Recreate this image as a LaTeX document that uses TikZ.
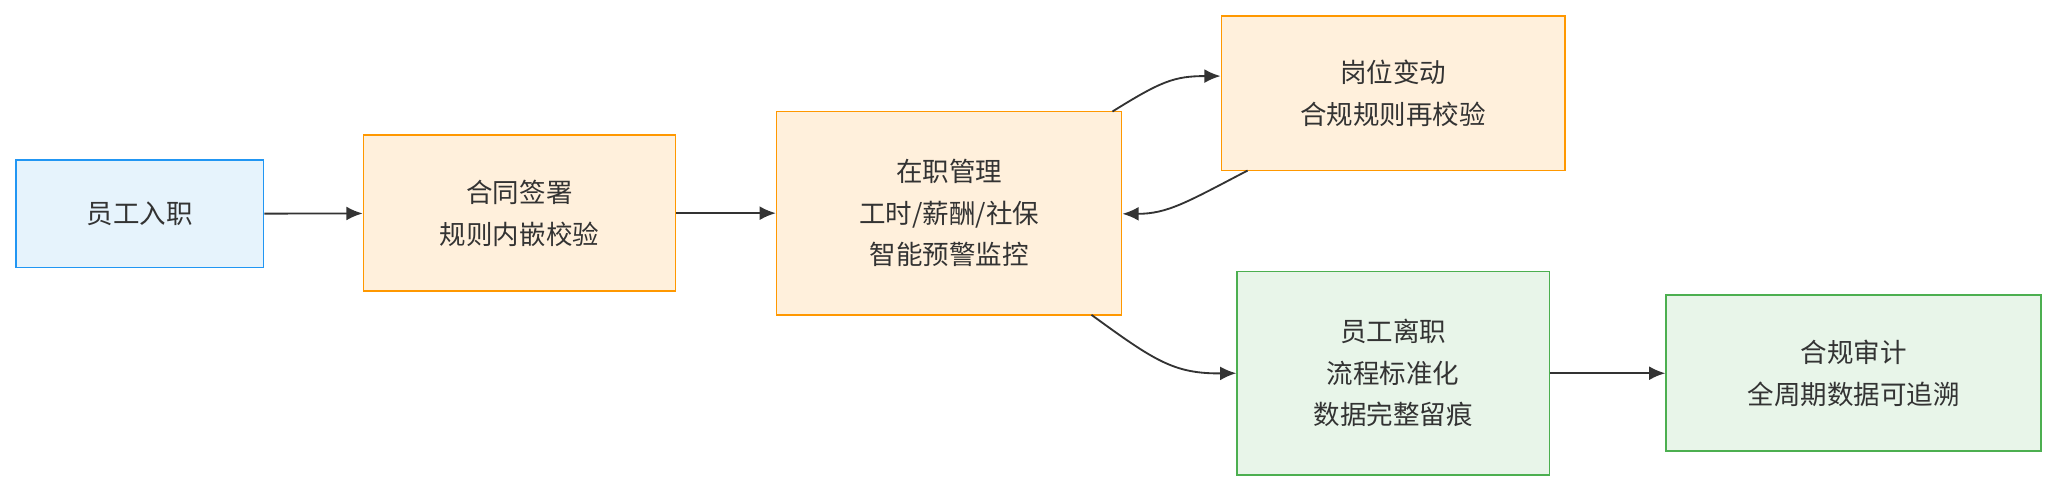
\documentclass[tikz,border=0pt]{standalone}
\usepackage{fontspec}
\setmainfont{Noto Sans CJK SC}
\usetikzlibrary{arrows.meta}
\definecolor{bfill}{HTML}{E6F3FC}\definecolor{bdraw}{HTML}{2196F3}
\definecolor{ofill}{HTML}{FFF0DC}\definecolor{odraw}{HTML}{FF9800}
\definecolor{gfill}{HTML}{E8F5E9}\definecolor{gdraw}{HTML}{4CAF50}
\definecolor{ink}{HTML}{333333}
\begin{document}
\begin{tikzpicture}[x=0.02cm,y=-0.02cm,
  box/.style={rectangle,line width=0.7pt,align=center,font=\fontsize{11.5pt}{18pt}\selectfont,text=ink},
  bl/.style={box,fill=bfill,draw=bdraw},
  or/.style={box,fill=ofill,draw=odraw},
  gr/.style={box,fill=gfill,draw=gdraw},
  arr/.style={-{Latex[length=7pt,width=6pt]},line width=0.8pt,draw=ink}]
\useasboundingbox (0,0) rectangle (1568,375);
\node[bl,minimum width=189*0.02cm,minimum height=82*0.02cm] (a) at (106.5,163) {员工入职};
\node[or,minimum width=238*0.02cm,minimum height=119*0.02cm] (b) at (396,162.5) {合同签署\\规则内嵌校验};
\node[or,minimum width=263*0.02cm,minimum height=155*0.02cm] (c) at (723.5,162.5) {在职管理\\工时/薪酬/社保\\智能预警监控};
\node[or,minimum width=262*0.02cm,minimum height=118*0.02cm] (d) at (1062,71) {岗位变动\\合规规则再校验};
\node[gr,minimum width=238*0.02cm,minimum height=155*0.02cm] (e) at (1062,284.5) {员工离职\\流程标准化\\数据完整留痕};
\node[gr,minimum width=286*0.02cm,minimum height=119*0.02cm] (f) at (1413,284.5) {合规审计\\全周期数据可追溯};
\coordinate (c1) at (848,85); \coordinate (d1) at (951,130);
\coordinate (c2) at (832,240);
\draw[arr] (a) -- (b);
\draw[arr] (b) -- (c);
\draw[arr] (c1) .. controls (885,62) and (895,58) .. (d.west |- 0,58);
\draw[arr] (d1) .. controls (905,154) and (890,163) .. (c.east |- 0,163);
\draw[arr] (c2) .. controls (880,275) and (895,285) .. (e.west);
\draw[arr] (e) -- (f);
\end{tikzpicture}
\end{document}
